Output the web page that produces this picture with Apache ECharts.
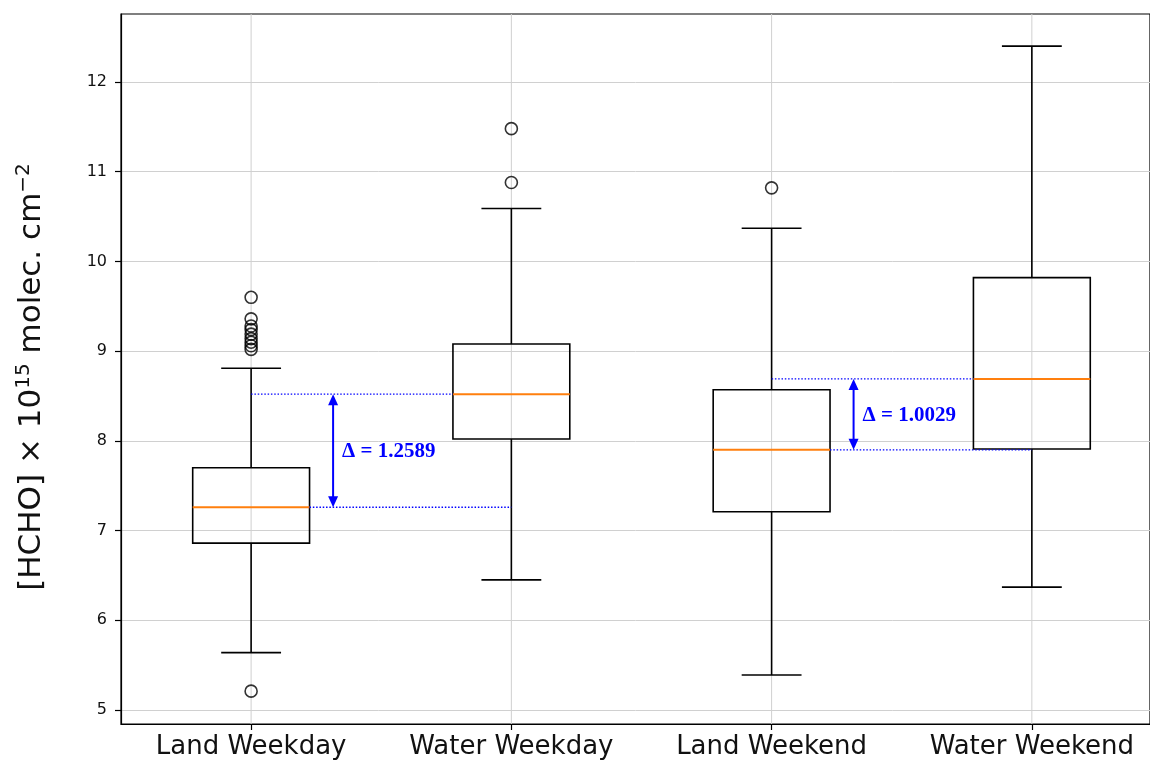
<!DOCTYPE html>
<html>
<head>
<meta charset="utf-8">
<script src="https://cdn.jsdelivr.net/npm/echarts@6/dist/echarts.min.js"></script>
<style>
html,body{margin:0;padding:0;background:#fff;}
#chart{width:1150px;height:761px;}
</style>
</head>
<body>
<div id="chart"></div>
<script>
// ---- data ----
const categories = ['Land Weekday', 'Water Weekday', 'Land Weekend', 'Water Weekend'];
const categoryPos = [0, 1, 2, 3];
const whiskerLow  = [5.64, 6.45, 5.39, 6.37];
const q1          = [6.86, 8.02, 7.21, 7.91];
const median      = [7.26, 8.52, 7.90, 8.69];
const q3          = [7.70, 9.08, 8.57, 9.82];
const whiskerHigh = [8.81, 10.59, 10.37, 12.40];
const outliersLandWeekday  = [5.21, 9.02, 9.06, 9.10, 9.14, 9.19, 9.24, 9.28, 9.36, 9.60];
const outliersWaterWeekday = [10.88, 11.48];
const outliersLandWeekend  = [10.82];
const outliersWaterWeekend = [];
const yTicks = [5, 6, 7, 8, 9, 10, 11, 12];
const annotFrom  = [0, 2];
const annotTo    = [1, 3];
const annotLabel = ['\u0394 = 1.2589', '\u0394 = 1.0029'];

const Y_MIN = 4.844, Y_MAX = 12.758;
const X_MIN = -0.5, X_MAX = 3.454;
const BOX_FRAC = 0.449, CAP_FRAC = 0.23;

const boxData = categoryPos.map(i => [i, whiskerLow[i], q1[i], median[i], q3[i], whiskerHigh[i]]);
const outlierData = [];
[outliersLandWeekday, outliersWaterWeekday, outliersLandWeekend, outliersWaterWeekend].forEach((arr, i) => {
  arr.forEach(v => outlierData.push([categoryPos[i], v]));
});
const annotData = annotFrom.map((f, k) => [f, annotTo[k], k]);

const chart = echarts.init(document.getElementById('chart'), null, {renderer: 'canvas'});

const lineStyle = {stroke: '#000', lineWidth: 1.6};

function renderBox(params, api) {
  const i = api.value(0);
  const band = api.size([1, 0])[0];
  const bw = band * BOX_FRAC, cw = band * CAP_FRAC;
  const pLo = api.coord([i, api.value(1)]);
  const pQ1 = api.coord([i, api.value(2)]);
  const pMed = api.coord([i, api.value(3)]);
  const pQ3 = api.coord([i, api.value(4)]);
  const pHi = api.coord([i, api.value(5)]);
  const x = pLo[0];
  return {
    type: 'group',
    children: [
      {type: 'line', shape: {x1: x, y1: pLo[1], x2: x, y2: pQ1[1]}, style: lineStyle},
      {type: 'line', shape: {x1: x, y1: pQ3[1], x2: x, y2: pHi[1]}, style: lineStyle},
      {type: 'line', shape: {x1: x - cw / 2, y1: pLo[1], x2: x + cw / 2, y2: pLo[1]}, style: lineStyle},
      {type: 'line', shape: {x1: x - cw / 2, y1: pHi[1], x2: x + cw / 2, y2: pHi[1]}, style: lineStyle},
      {type: 'rect', shape: {x: x - bw / 2, y: pQ3[1], width: bw, height: pQ1[1] - pQ3[1]},
        style: {fill: 'none', stroke: '#000', lineWidth: 1.6}},
      {type: 'line', shape: {x1: x - bw / 2, y1: pMed[1], x2: x + bw / 2, y2: pMed[1]},
        style: {stroke: '#ff7f0e', lineWidth: 2}}
    ]
  };
}

function renderVGrid(params, api) {
  const i = api.value(0);
  const a = api.coord([i, Y_MAX]);
  const b = api.coord([i, Y_MIN]);
  return {type: 'line', shape: {x1: a[0], y1: a[1], x2: b[0], y2: b[1]},
    style: {stroke: '#d0d0d0', lineWidth: 1}};
}

function renderAnnot(params, api) {
  const f = api.value(0), t = api.value(1), k = api.value(2);
  const band = api.size([1, 0])[0];
  const bw = band * BOX_FRAC;
  const lowP = api.coord([f, median[f]]);
  const highP = api.coord([t, median[t]]);
  const xf = lowP[0], xt = highP[0];
  const yLow = lowP[1], yHigh = highP[1];
  const ax = xf + band * 0.315;
  const dot = {stroke: '#0000ff', lineWidth: 1.3, lineDash: [1.5, 1.8]};
  const blue = '#0000ff';
  const ah = 11, aw = 5;
  return {
    type: 'group',
    children: [
      {type: 'line', shape: {x1: xf, y1: yHigh, x2: xt - bw / 2, y2: yHigh}, style: dot},
      {type: 'line', shape: {x1: xf + bw / 2, y1: yLow, x2: xt, y2: yLow}, style: dot},
      {type: 'line', shape: {x1: ax, y1: yHigh + ah - 1, x2: ax, y2: yLow - ah + 1},
        style: {stroke: blue, lineWidth: 2}},
      {type: 'polygon', shape: {points: [[ax, yHigh], [ax - aw, yHigh + ah], [ax + aw, yHigh + ah]]},
        style: {fill: blue}},
      {type: 'polygon', shape: {points: [[ax, yLow], [ax - aw, yLow - ah], [ax + aw, yLow - ah]]},
        style: {fill: blue}},
      {type: 'text', x: ax + 9, y: (yHigh + yLow) / 2 + 1,
        style: {text: annotLabel[k], fill: blue, fontSize: 21, fontWeight: 'bold',
          fontFamily: '"Liberation Serif", "DejaVu Serif", serif', align: 'left', verticalAlign: 'middle'}}
    ]
  };
}

const option = {
  backgroundColor: '#fff',
  animation: false,
  grid: {left: 121, top: 14, width: 1030, height: 710, show: true,
    borderColor: '#000', borderWidth: 1.2, backgroundColor: 'transparent'},
  xAxis: {
    type: 'value',
    min: X_MIN,
    max: X_MAX,
    axisLine: {show: true, onZero: false, lineStyle: {color: '#000', width: 1.2}},
    axisTick: {show: true, length: 6, customValues: categoryPos, lineStyle: {color: '#000', width: 1.2}},
    axisLabel: {fontSize: 26, color: '#111', margin: 10, customValues: categoryPos,
      formatter: v => categories[Math.round(v)] || '',
      fontFamily: '"DejaVu Sans", sans-serif'},
    splitLine: {show: false}
  },
  yAxis: {
    type: 'value',
    min: Y_MIN,
    max: Y_MAX,
    name: '[HCHO] \u00d7 10{sup|15} molec. cm{sup|\u22122}',
    nameLocation: 'middle',
    nameRotate: 90,
    nameGap: 71,
    nameTextStyle: {
      fontSize: 31, color: '#111', fontFamily: '"DejaVu Sans", sans-serif',
      padding: [0, 16, 0, 0],
      rich: {sup: {fontSize: 20, color: '#111', fontFamily: '"DejaVu Sans", sans-serif', padding: [0, 0, 16, 0]}}
    },
    axisLine: {show: true, onZero: false, lineStyle: {color: '#000', width: 1.2}},
    axisTick: {show: true, length: 6, customValues: yTicks, lineStyle: {color: '#000', width: 1.2}},
    axisLabel: {fontSize: 16, color: '#111', margin: 14, customValues: yTicks,
      fontFamily: '"DejaVu Sans", sans-serif'},
    splitLine: {show: true, lineStyle: {color: '#d0d0d0', width: 1}}
  },
  series: [
    {
      type: 'custom', name: 'vgrid', z: 1, silent: true,
      renderItem: renderVGrid,
      data: categoryPos.map(i => [i]),
      encode: {x: 0}
    },
    {
      type: 'custom', name: 'boxes', z: 3, silent: true,
      renderItem: renderBox,
      data: boxData,
      encode: {x: 0, y: [1, 2, 3, 4, 5]}
    },
    {
      type: 'scatter', name: 'outliers', z: 4, silent: true,
      symbol: 'circle', symbolSize: 12,
      itemStyle: {color: 'rgba(255,255,255,0)', borderColor: '#000', borderWidth: 1.6},
      data: outlierData
    },
    {
      type: 'custom', name: 'annot', z: 5, silent: true,
      renderItem: renderAnnot,
      data: annotData,
      encode: {x: 0}
    }
  ]
};
chart.setOption(option);
</script>
</body>
</html>
